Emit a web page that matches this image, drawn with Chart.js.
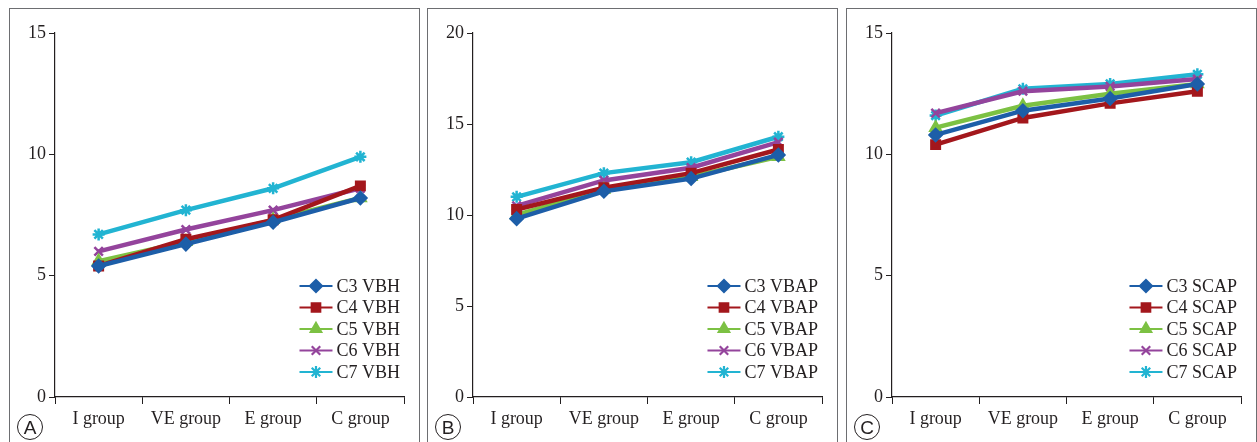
<!DOCTYPE html>
<html>
<head>
<meta charset="utf-8">
<script src="https://cdn.jsdelivr.net/npm/chart.js@4/dist/chart.umd.min.js"></script>
<style>
  body { margin: 0; background: #fff; width: 1257px; height: 442px; overflow: hidden; position: relative; }
  .panel { position: absolute; top: 8px; width: 409px; height: 440px; border: 1px solid #6d6e71; }
  .panel canvas { position: absolute; left: 0; top: 0; }
  .tag {
    position: absolute; left: 7px; top: 405px; width: 24px; height: 24px;
    border: 1.5px solid #231f20; border-radius: 50%;
    font: 19px "Liberation Sans", Arial, sans-serif; color: #231f20;
    text-align: center; line-height: 25px;
  }
</style>
</head>
<body>
<div class="panel" style="left:9px"><canvas id="chartA" width="409" height="433"></canvas><div class="tag">A</div></div>
<div class="panel" style="left:427px"><canvas id="chartB" width="409" height="433"></canvas><div class="tag">B</div></div>
<div class="panel" style="left:846px"><canvas id="chartC" width="409" height="433"></canvas><div class="tag">C</div></div>

<script>
const groups = ["I group", "VE group", "E group", "C group"];
const levels = ["C3", "C4", "C5", "C6", "C7"];

// panel A - VBH
const vbhC3 = [5.4, 6.3, 7.2, 8.2];
const vbhC4 = [5.4, 6.5, 7.3, 8.7];
const vbhC5 = [5.6, 6.4, 7.3, 8.2];
const vbhC6 = [6.0, 6.9, 7.7, 8.6];
const vbhC7 = [6.7, 7.7, 8.6, 9.9];

// panel B - VBAP
const vbapC3 = [9.8, 11.3, 12.0, 13.3];
const vbapC4 = [10.3, 11.5, 12.3, 13.6];
const vbapC5 = [10.0, 11.4, 12.1, 13.2];
const vbapC6 = [10.5, 11.9, 12.6, 14.0];
const vbapC7 = [11.0, 12.3, 12.9, 14.3];

// panel C - SCAP
const scapC3 = [10.8, 11.8, 12.3, 12.9];
const scapC4 = [10.4, 11.5, 12.1, 12.6];
const scapC5 = [11.1, 12.0, 12.5, 12.9];
const scapC6 = [11.7, 12.6, 12.8, 13.1];
const scapC7 = [11.6, 12.7, 12.9, 13.3];

const yTicksA = [0, 5, 10, 15];
const yTicksB = [0, 5, 10, 15, 20];
const yTicksC = [0, 5, 10, 15];

const colors = ["#1d5ea8", "#a3171c", "#7cc143", "#94449c", "#22b4d2"];
const styles = ["rectRot", "rect", "triangle", "crossRot", "star"];
const font = "Liberation Serif";
const ink = "#231f20";

const legendPlugin = {
  id: "lineLegend",
  afterDatasetsDraw(chart) {
    const ctx = chart.ctx;
    const area = chart.chartArea;
    ctx.save();
    ctx.font = "18px '" + font + "'";
    let w = 0;
    chart.data.datasets.forEach(ds => { w = Math.max(w, ctx.measureText(ds.label).width); });
    const textX = area.right - 4 - w;
    const lineX = textX - 37;
    chart.data.datasets.forEach((ds, i) => {
      const y = area.bottom - 111 + i * 21.5;
      ctx.strokeStyle = ds.borderColor;
      ctx.lineWidth = 2.2;
      ctx.beginPath();
      ctx.moveTo(lineX, y);
      ctx.lineTo(lineX + 33, y);
      ctx.stroke();
      ctx.fillStyle = ds.borderColor;
      Chart.helpers.drawPoint(ctx, { pointStyle: ds.pointStyle, radius: 6, rotation: 0, borderWidth: 1.5 }, lineX + 16.5, y);
      ctx.fillStyle = ink;
      ctx.textBaseline = "middle";
      ctx.textAlign = "left";
      ctx.fillText(ds.label, textX, y + 1);
    });
    ctx.restore();
  }
};

function makeChart(id, suffix, series, yMax, yTicks) {
  new Chart(document.getElementById(id), {
    type: "line",
    data: {
      labels: groups,
      datasets: series.map((vals, i) => ({
        label: levels[i] + " " + suffix,
        data: vals,
        borderColor: colors[i],
        backgroundColor: colors[i],
        pointStyle: styles[i],
        pointRadius: 6,
        pointBorderWidth: 2.5,
        borderWidth: 4.5,
        tension: 0
      }))
    },
    options: {
      responsive: false,
      animation: false,
      events: [],
      layout: { padding: { top: 24, right: 15, left: 0, bottom: 0 } },
      plugins: { legend: { display: false }, tooltip: { enabled: false } },
      scales: {
        x: {
          offset: true,
          grid: { display: true, drawOnChartArea: false, drawTicks: true, tickLength: 7, offset: true, color: ink },
          border: { display: true, color: ink, width: 1.2 },
          ticks: { color: ink, font: { family: font, size: 18 }, padding: 4, maxRotation: 0 },
          afterFit: s => { s.height = 45; }
        },
        y: {
          min: 0, max: yMax,
          afterBuildTicks: s => { s.ticks = yTicks.map(v => ({ value: v })); },
          grid: { display: true, drawOnChartArea: false, drawTicks: true, tickLength: 6, color: ink },
          border: { display: true, color: ink, width: 1.2 },
          ticks: { color: ink, font: { family: font, size: 18 }, padding: 3 },
          afterFit: s => { s.width = 45; }
        }
      }
    },
    plugins: [legendPlugin]
  });
}

makeChart("chartA", "VBH", [vbhC3, vbhC4, vbhC5, vbhC6, vbhC7], 15, yTicksA);
makeChart("chartB", "VBAP", [vbapC3, vbapC4, vbapC5, vbapC6, vbapC7], 20, yTicksB);
makeChart("chartC", "SCAP", [scapC3, scapC4, scapC5, scapC6, scapC7], 15, yTicksC);
</script>
</body>
</html>
